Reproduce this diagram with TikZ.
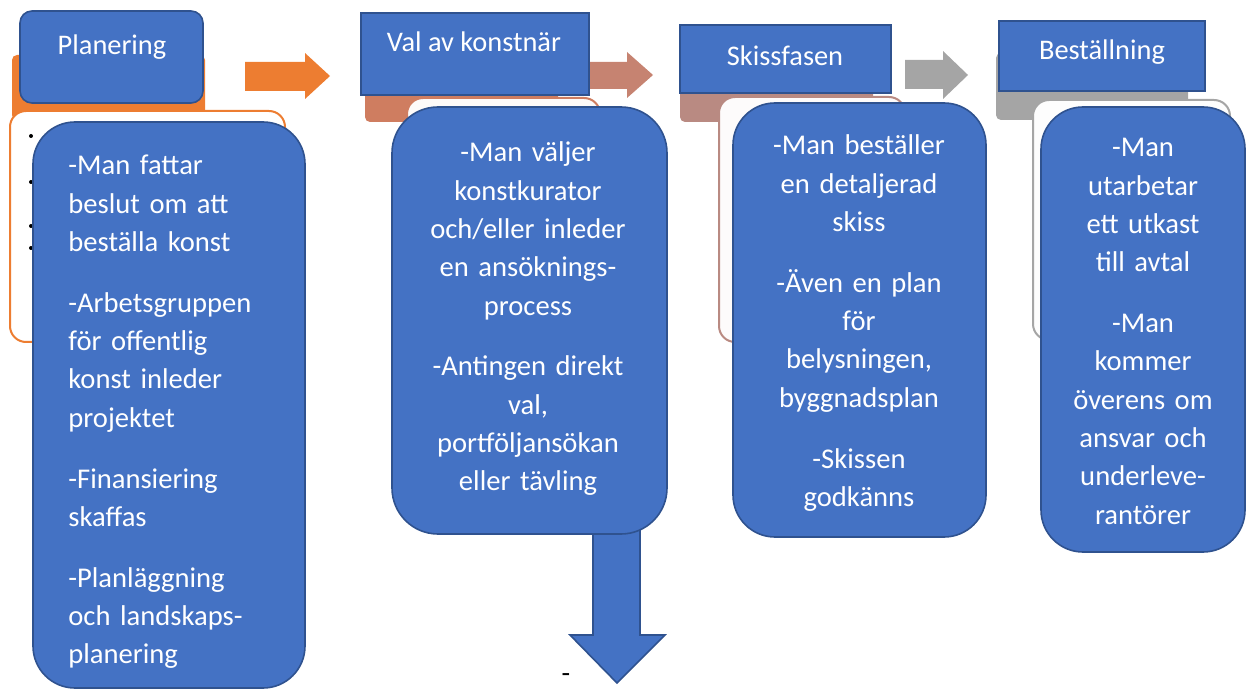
\documentclass[tikz,border=0pt]{standalone}
\usepackage{fontspec}
\setmainfont{Carlito}
\usepackage{xcolor}
\usepackage{tikz}
\usetikzlibrary{fit}

\definecolor{stepblue}{HTML}{4472C4}
\definecolor{stepedge}{HTML}{2F528F}
\definecolor{accorange}{HTML}{ED7D31}
\definecolor{accsalmon}{HTML}{CF7D60}
\definecolor{accsalmonarr}{HTML}{C68371}
\definecolor{accrose}{HTML}{B98A82}
\definecolor{accgray}{HTML}{A5A5A5}

\tikzstyle{headbg} = [inner sep=0pt, rounded corners=2.5pt]
\tikzstyle{listbox} = [inner sep=0pt, rounded corners=8pt, line width=1pt, fill=white]
\tikzstyle{headbox} = [inner sep=0pt, draw=stepedge, fill=stepblue, line width=0.8pt]
\tikzstyle{bodybox} = [headbox, rounded corners=21pt]
\tikzstyle{headtxt} = [inner sep=0pt, anchor=base, text=white, font=\fontsize{14.2}{19.15}\selectfont]
\tikzstyle{bodytxt} = [inner sep=0pt, anchor=base, text=white, text width=132pt, align=center, font=\fontsize{14.3}{19.15}\selectfont]

\begin{document}
\begin{tikzpicture}[x=0.5pt,y=-0.5pt]
	\useasboundingbox (0,0) rectangle (1246,689);
	
	% Arrows between the steps:
	\fill [accorange] (245,62) -- (305,62) -- (305,53) -- (330,76) -- (305,99) -- (305,91) -- (245,91) -- cycle;
	\fill [accsalmonarr] (570,62) -- (627,62) -- (627,52) -- (653,75) -- (627,98) -- (627,89) -- (570,89) -- cycle;
	\fill [accgray] (905,60) -- (943,60) -- (943,51) -- (968,75) -- (943,99) -- (943,89) -- (905,89) -- cycle;
	
	% Step 1: Planering
	\node [headbg, fill=accorange, fit={(12,55) (205,120)}] (planBg) {};
	\node [listbox, draw=accorange, fit={(10,111) (285,342)}] (planList) {};
	\foreach \y in {136,182,226,248}
		\fill (31,\y) circle (2);
	\node [headbox, rounded corners=6pt, fit={(20,11) (203,103)}] (planHead) {};
	\node [headtxt] (planTitle) at (112,55) {Planering};
	\node [bodybox, fit={(33,122) (305,688)}] (planBody) {};
	\node [bodytxt, align=left, anchor=base west] (planText) at (68,175) {-Man fattar\\ beslut om att\\ beställa konst\\[11.25pt] -Arbetsgruppen\\ för offentlig\\ konst inleder\\ projektet\\[11.25pt] -Finansiering\\ skaffas\\[11.25pt] -Planläggning\\ och landskaps-\\ planering};
	
	% Step 2: Val av konstnär
	\node [headbg, fill=accsalmon, fit={(365,55) (558,122)}] (valBg) {};
	\node [listbox, draw=accsalmon, fill=white!96!accsalmon, fit={(407,98) (600,340)}] (valList) {};
	\node [headbox, fit={(361,13) (589,95)}] (valHead) {};
	\node [headtxt] (valTitle) at (474,52) {Val av konstnär};
	% down arrow under the box
	\fill [stepblue, draw=stepedge, line width=0.8pt] (593,520) -- (640,520) -- (640,635) -- (665,635) -- (617,683) -- (570,635) -- (593,635) -- cycle;
	\node [bodybox, rounded corners=23pt, fit={(392,107) (667,534)}] (valBody) {};
	\node [bodytxt] (valText) at (528,162) {-Man väljer\\ konstkurator\\ och/eller inleder\\ en ansöknings-\\ process\\[11.25pt] -Antingen direkt\\ val,\\ portföljansökan\\ eller tävling};
	\node [inner sep=0pt, anchor=base, font=\fontsize{14}{19.15}\selectfont] (dash) at (566,682) {-};
	
	% Step 3: Skissfasen
	\node [headbg, fill=accrose, fit={(680,55) (873,122)}] (skissBg) {};
	\node [listbox, draw=accrose, fill=white!97!accrose, fit={(719,97) (905,342)}] (skissList) {};
	\node [headbox, fit={(680,25) (891,93)}] (skissHead) {};
	\node [headtxt] (skissTitle) at (785,66) {Skissfasen};
	\node [bodybox, fit={(733,103) (986,537)}] (skissBody) {};
	\node [bodytxt] (skissText) at (859,155) {-Man beställer\\ en detaljerad\\ skiss\\[11.25pt] -Även en plan\\ för\\ belysningen,\\ byggnadsplan\\[11.25pt] -Skissen\\ godkänns};
	
	% Step 4: Beställning
	\node [headbg, fill=accgray, fit={(996,53) (1188,120)}] (bestBg) {};
	\node [listbox, draw=accgray, fill=white!98!accgray, fit={(1033,100) (1230,340)}] (bestList) {};
	\node [headbox, fit={(999,21) (1205,91)}] (bestHead) {};
	\node [headtxt] (bestTitle) at (1102,60) {Beställning};
	\node [bodybox, fit={(1041,107) (1245,552)}] (bestBody) {};
	\node [bodytxt] (bestText) at (1143,157) {-Man\\ utarbetar\\ ett utkast\\ till avtal\\[11.25pt] -Man\\ kommer\\ överens om\\ ansvar och\\ underleve-\\ rantörer};
	
\end{tikzpicture}
\end{document}
